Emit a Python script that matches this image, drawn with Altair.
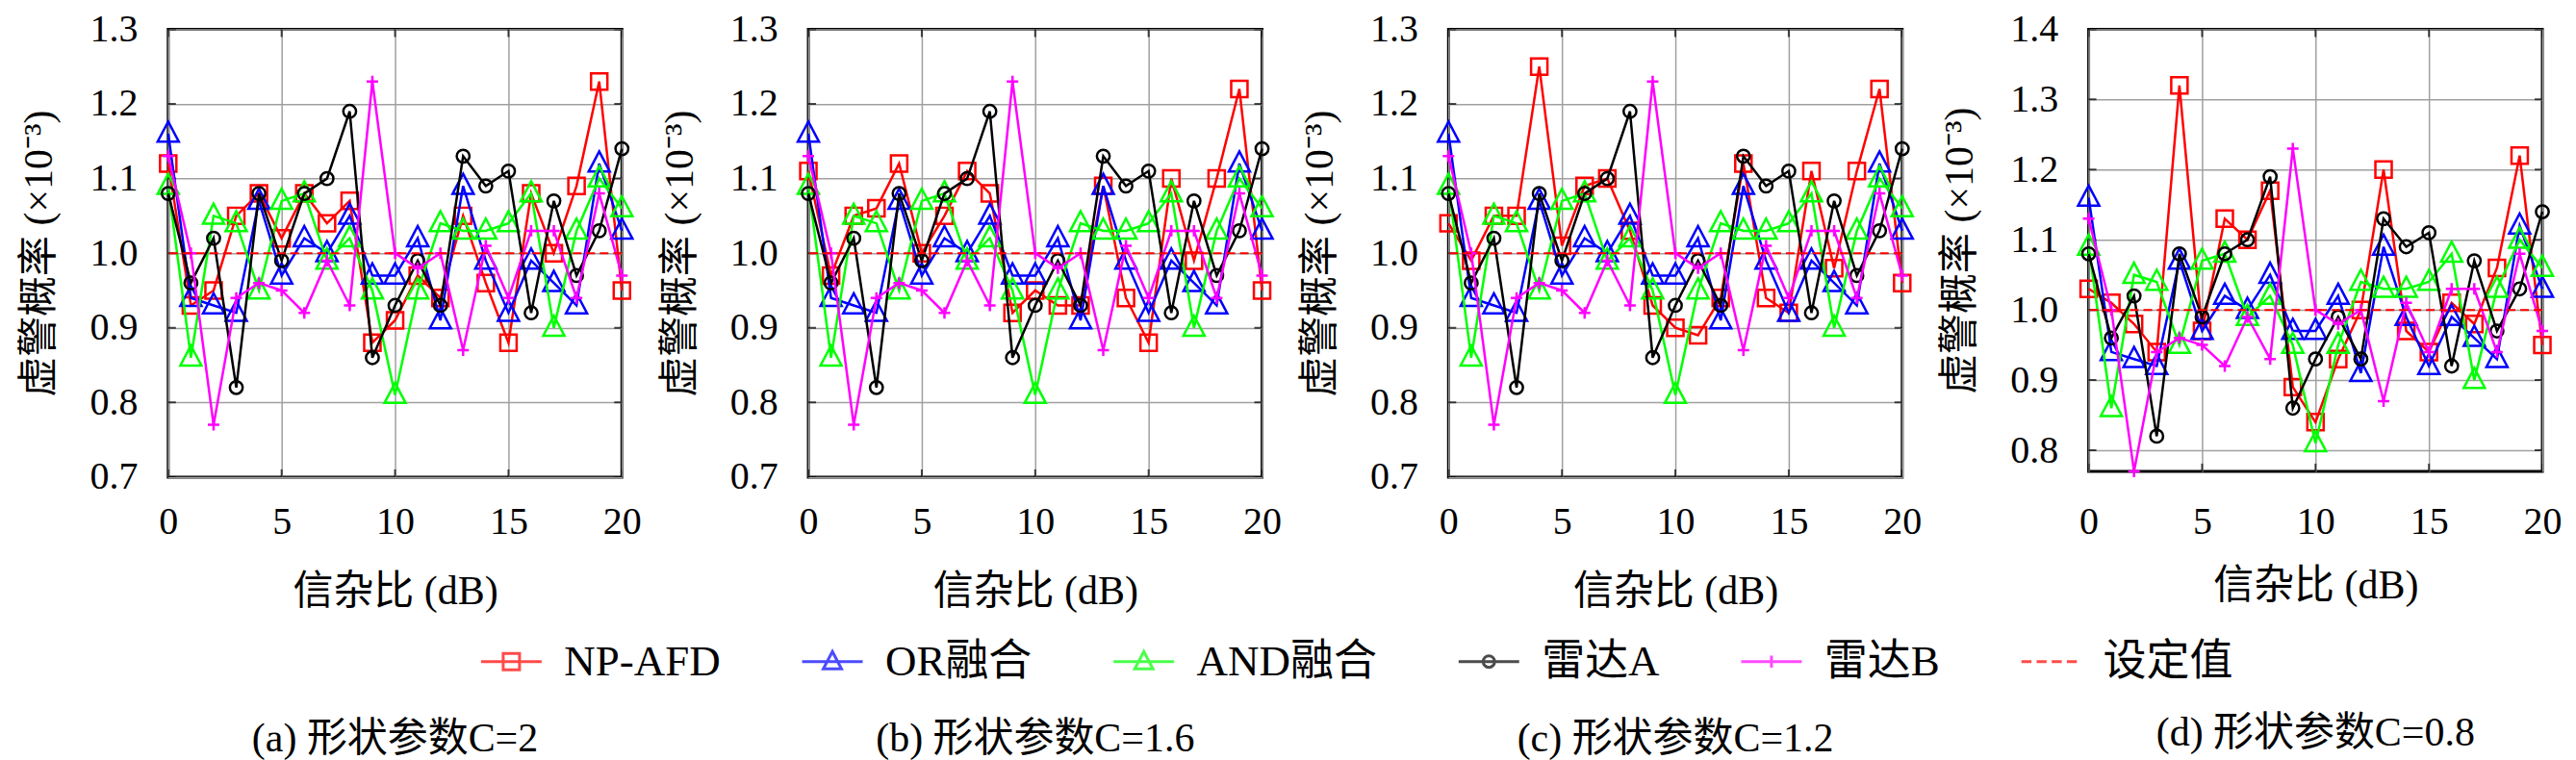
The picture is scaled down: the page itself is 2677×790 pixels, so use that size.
import altair as alt
import pandas as pd

# ---------------- data ----------------
SNR = list(range(21))
SERIES = ["NP-AFD", "OR融合", "AND融合", "雷达A", "雷达B"]
COLORS = ["#ff0000", "#0000ff", "#00ff00", "#000000", "#ff00ff"]

OR_FUSION = [1.16, 0.94, 0.93, 0.92, 1.07, 0.97, 1.02, 1.00, 1.05, 0.97, 0.97,
             1.02, 0.91, 1.09, 0.99, 0.92, 0.99, 0.96, 0.93, 1.12, 1.03]
AND_FUSION = [1.09, 0.86, 1.05, 1.04, 0.95, 1.07, 1.08, 0.99, 1.02, 0.95, 0.81,
              0.95, 1.04, 1.03, 1.03, 1.04, 1.08, 0.90, 1.03, 1.10, 1.06]
RADAR_A = [1.08, 0.96, 1.02, 0.82, 1.08, 0.99, 1.08, 1.10, 1.19, 0.86, 0.93,
           0.99, 0.93, 1.13, 1.09, 1.11, 0.92, 1.07, 0.97, 1.03, 1.14]
RADAR_B = [1.13, 1.00, 0.77, 0.94, 0.96, 0.95, 0.92, 0.99, 0.93, 1.23, 1.00,
           0.98, 1.00, 0.87, 1.01, 0.94, 1.03, 1.03, 0.94, 1.08, 0.97]
NP_AFD_A = [1.12, 0.93, 0.95, 1.05, 1.08, 1.02, 1.08, 1.04, 1.07, 0.88, 0.91,
            0.97, 0.94, 1.05, 0.96, 0.88, 1.08, 1.00, 1.09, 1.23, 0.95]
NP_AFD_B = [1.11, 0.97, 1.05, 1.06, 1.12, 1.00, 1.05, 1.11, 1.08, 0.92, 0.95,
            0.93, 0.93, 1.09, 0.94, 0.88, 1.10, 0.99, 1.10, 1.22, 0.95]
NP_AFD_C = [1.04, 0.99, 1.05, 1.05, 1.25, 1.01, 1.09, 1.10, 1.03, 0.93, 0.90,
            0.89, 0.94, 1.12, 0.94, 0.92, 1.11, 0.98, 1.11, 1.22, 0.96]
NP_AFD_D = [1.03, 1.01, 0.98, 0.94, 1.32, 0.97, 1.13, 1.10, 1.17, 0.89, 0.84,
            0.93, 1.00, 1.20, 0.97, 0.94, 1.01, 0.98, 1.06, 1.22, 0.95]
SET_VALUE = 1.0

CAPTIONS = ["(a) 形状参数C=2", "(b) 形状参数C=1.6", "(c) 形状参数C=1.2", "(d) 形状参数C=0.8"]
X_TICKS = [0, 5, 10, 15, 20]
Y_TICKS_ABC = [0.7, 0.8, 0.9, 1.0, 1.1, 1.2, 1.3]
Y_TICKS_D = [0.8, 0.9, 1.0, 1.1, 1.2, 1.3, 1.4]
Y_DOMAIN_ABC = [0.7, 1.3]
Y_DOMAIN_D = [0.77, 1.4]

LEGEND_NAMES = SERIES + ["设定值"]
LEGEND_COLORS = COLORS + ["#ff0000"]

# ---------------- styles ----------------
FONT = "'Liberation Serif', 'Times New Roman', 'Noto Sans CJK SC', serif"
MARKERS = [
    ("square", 289),
    ("M0,-1.15L1,0.75L-1,0.75Z", 484),
    ("M0,-1.15L1,0.75L-1,0.75Z", 484),
    ("circle", 177),
    ("M-1,0H1M0,-1V1", 144),
]
LEGEND_PATHS = [
    "M-1,0H1M-0.27,-0.27H0.27V0.27H-0.27Z",
    "M-1,0H1M0,-0.33L0.3,0.24L-0.3,0.24Z",
    "M-1,0H1M0,-0.33L0.3,0.24L-0.3,0.24Z",
    "M-1,0H1M0.19,0A0.19,0.19,0,1,1,-0.19,0A0.19,0.19,0,1,1,0.19,0",
    "M-1,0H1M0,-0.2V0.2",
    "M-0.95,0H-0.62M-0.45,0H-0.12M0.05,0H0.38M0.55,0H0.88",
]

W = 472
H = 466


def panel(np_afd, caption, y_domain, y_ticks, height, with_legend, extra_pad):
    values = [np_afd, OR_FUSION, AND_FUSION, RADAR_A, RADAR_B]
    rows = []
    for name, vals in zip(SERIES, values):
        for x, v in zip(SNR, vals):
            rows.append({"snr": x, "pfa": v, "series": name})
    df = pd.DataFrame(rows)

    xs = alt.Scale(domain=[0, 20], nice=False, zero=False, padding=0)
    ys = alt.Scale(domain=y_domain, nice=False, zero=False, padding=0)
    x_enc = alt.X("snr:Q", scale=xs,
                  axis=alt.Axis(values=X_TICKS, format="d", title="信杂比 (dB)",
                                labelPadding=27 + extra_pad, titlePadding=32 - extra_pad))
    y_enc = alt.Y("pfa:Q", scale=ys,
                  axis=alt.Axis(values=y_ticks, format=".1f", title="虚警概率 (×10⁻³)",
                                labelPadding=32, titlePadding=30))

    layers = []
    # inward tick stubs on all four borders
    xt = pd.DataFrame([{"snr": t, "pfa": y} for t in X_TICKS for y in y_domain])
    yt = pd.DataFrame([{"snr": x, "pfa": t} for t in y_ticks for x in [0, 20]])
    layers.append(alt.Chart(xt).mark_tick(orient="vertical", size=16, thickness=2,
                                          color="black", clip=True)
                  .encode(x=alt.X("snr:Q", scale=xs), y=alt.Y("pfa:Q", scale=ys)))
    layers.append(alt.Chart(yt).mark_tick(orient="horizontal", size=16, thickness=2,
                                          color="black", clip=True)
                  .encode(x=alt.X("snr:Q", scale=xs), y=alt.Y("pfa:Q", scale=ys)))

    base = alt.Chart(df)
    for i, (name, color) in enumerate(zip(SERIES, COLORS)):
        shape, size = MARKERS[i]
        sub = base.transform_filter(alt.datum.series == name)
        enc_x = x_enc if i == 0 else alt.X("snr:Q", scale=xs)
        enc_y = y_enc if i == 0 else alt.Y("pfa:Q", scale=ys)
        layers.append(sub.mark_line(color=color, strokeWidth=2.5)
                      .encode(x=enc_x, y=enc_y))
        layers.append(sub.mark_point(shape=shape, size=size, filled=False,
                                     color=color, strokeWidth=2.5, opacity=1)
                      .encode(x=alt.X("snr:Q", scale=xs), y=alt.Y("pfa:Q", scale=ys)))

    layers.append(alt.Chart(pd.DataFrame({"v": [SET_VALUE]}))
                  .mark_rule(color="#ff0000", strokeWidth=2, strokeDash=[9, 5])
                  .encode(y=alt.Y("v:Q", scale=ys)))

    if with_legend:
        leg = alt.Legend(title=None, orient="none", legendX=324, legendY=625,
                         direction="horizontal", symbolSize=3969, symbolStrokeWidth=3,
                         labelFont=FONT, labelFontSize=45, labelOffset=22,
                         columnPadding=78, padding=0, labelLimit=400)
        ldf = pd.DataFrame({"name": LEGEND_NAMES})
        layers.append(alt.Chart(ldf).transform_filter("false")
                      .mark_point(filled=False, strokeWidth=3)
                      .encode(stroke=alt.Stroke("name:N",
                                                scale=alt.Scale(domain=LEGEND_NAMES, range=LEGEND_COLORS),
                                                legend=leg),
                              shape=alt.Shape("name:N",
                                              scale=alt.Scale(domain=LEGEND_NAMES, range=LEGEND_PATHS),
                                              legend=leg)))

    return alt.layer(*layers).properties(
        width=W, height=height,
        title=alt.TitleParams(text=caption, orient="bottom", frame="group",
                              anchor="middle", offset=112, fontSize=42,
                              font=FONT, fontWeight="normal", color="black"),
    )


panels = [
    panel(NP_AFD_A, CAPTIONS[0], Y_DOMAIN_ABC, Y_TICKS_ABC, H, True, 0),
    panel(NP_AFD_B, CAPTIONS[1], Y_DOMAIN_ABC, Y_TICKS_ABC, H, False, 0),
    panel(NP_AFD_C, CAPTIONS[2], Y_DOMAIN_ABC, Y_TICKS_ABC, H, False, 0),
    panel(NP_AFD_D, CAPTIONS[3], Y_DOMAIN_D, Y_TICKS_D, H - 6, False, 6),
]

chart = (
    alt.hconcat(*panels, spacing=194, bounds="flush")
    .resolve_scale(x="independent", y="independent")
    .properties(padding={"left": 10, "top": 0, "right": 5, "bottom": 0})
    .configure_view(stroke="black", strokeWidth=3)
    .configure_axis(labelFont=FONT, titleFont=FONT, labelFontSize=40, titleFontSize=42,
                    titleFontWeight="normal", labelColor="black", titleColor="black",
                    grid=True, gridColor="#a0a0a0", gridWidth=1.5, ticks=False,
                    domain=False, labelFlush=False)
    .configure_title(font=FONT, fontWeight="normal")
)

chart.save("out.html", embed_options={"renderer": "svg", "actions": False})
